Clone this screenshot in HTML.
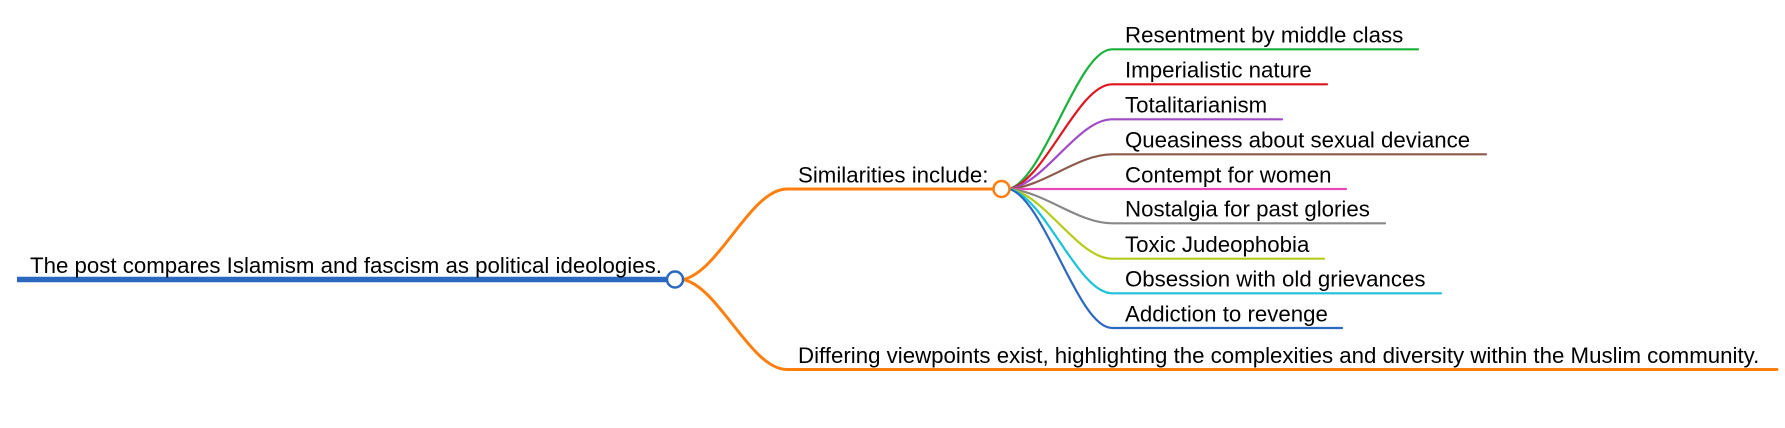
<!DOCTYPE html>
<html>
<head>
<meta charset="utf-8">
<style>
  html, body { margin: 0; padding: 0; background: #ffffff; }
  body { width: 1785px; height: 428px; overflow: hidden; }
  svg { display: block; }
  text { font-family: "Liberation Sans", Arial, sans-serif; font-size: 22.25px; fill: #000; }
</style>
</head>
<body>
<svg width="1785" height="428" viewBox="0 0 1785 428" xmlns="http://www.w3.org/2000/svg">
  <rect x="0" y="0" width="1785" height="428" fill="#ffffff"/>

  <!-- Root underline -->
  <line x1="17" y1="279.5" x2="668" y2="279.5" stroke="#2b68c0" stroke-width="5.5"/>
  <text x="30" y="273">The post compares Islamism and fascism as political ideologies.</text>

  <!-- Orange branches from root -->
  <g fill="none" stroke="#ff7f0e" stroke-width="3" stroke-linecap="round">
    <path d="M683 279.5 C719 272.3, 750.6 189, 787 189"/>
    <path d="M683 279.5 C719 286.7, 750.6 369.5, 787 369.5"/>
    <line x1="787" y1="189" x2="994" y2="189"/>
    <line x1="787" y1="369.5" x2="1777" y2="369.5"/>
  </g>
  <text x="798" y="182.5">Similarities include:</text>
  <text x="798" y="363">Differing viewpoints exist, highlighting the complexities and diversity within the Muslim community.</text>

  <!-- Child branches -->
  <g fill="none" stroke-width="2.2" stroke-linecap="round">
    <path stroke="#17b13b" d="M1009.5 189 C1045 178, 1078 49.3, 1112 49.3 L1418 49.3"/>
    <path stroke="#e0141e" d="M1009.5 189 C1045 181, 1078 84.3, 1112 84.3 L1327 84.3"/>
    <path stroke="#a04bc8" d="M1009.5 189 C1045 183.5, 1078 119.3, 1112 119.3 L1282 119.3"/>
    <path stroke="#8c5a4a" d="M1009.5 189 C1045 186, 1078 154.3, 1112 154.3 L1486 154.3"/>
    <path stroke="#e64ab4" d="M1009.5 189 L1346 189"/>
    <path stroke="#888888" d="M1009.5 189 C1045 192, 1078 223.3, 1112 223.3 L1385 223.3"/>
    <path stroke="#b6cc1a" d="M1009.5 189 C1045 194.5, 1078 258.7, 1112 258.7 L1324 258.7"/>
    <path stroke="#1cc2d8" d="M1009.5 189 C1045 197, 1078 293.3, 1112 293.3 L1441 293.3"/>
    <path stroke="#2b68c0" d="M1009.5 189 C1045 200, 1078 328, 1112 328 L1342 328"/>
  </g>

  <text x="1125" y="42.7">Resentment by middle class</text>
  <text x="1125" y="77.7">Imperialistic nature</text>
  <text x="1125" y="112.7">Totalitarianism</text>
  <text x="1125" y="147.7">Queasiness about sexual deviance</text>
  <text x="1125" y="182.4">Contempt for women</text>
  <text x="1125" y="216.7">Nostalgia for past glories</text>
  <text x="1125" y="252.1">Toxic Judeophobia</text>
  <text x="1125" y="286.7">Obsession with old grievances</text>
  <text x="1125" y="321.4">Addiction to revenge</text>

  <!-- Node circles -->
  <circle cx="675" cy="279.5" r="8" fill="#ffffff" stroke="#2b68c0" stroke-width="2.5"/>
  <circle cx="1001.5" cy="189" r="8" fill="#ffffff" stroke="#ff7f0e" stroke-width="2.5"/>
</svg>
</body>
</html>
